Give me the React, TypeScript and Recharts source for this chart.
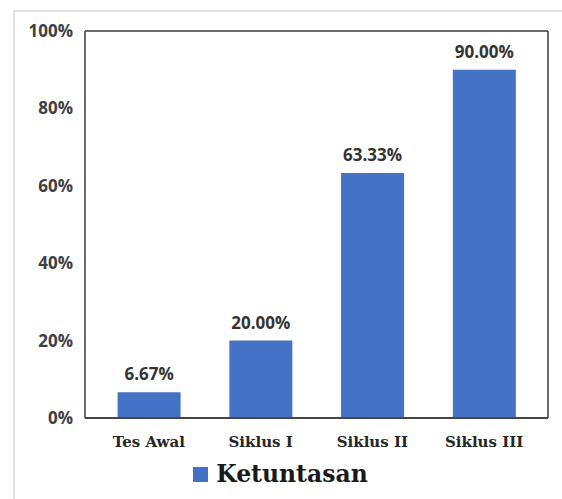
import { BarChart, Bar, XAxis, YAxis, CartesianGrid, Legend, LabelList } from "recharts";

const categories = ["Tes Awal", "Siklus I", "Siklus II", "Siklus III"];
const ketuntasan = [6.67, 20.0, 63.33, 90.0];
const yTicks = [0, 20, 40, 60, 80, 100];

const data = categories.map((name, i) => ({ name, Ketuntasan: ketuntasan[i] }));

const sans = "'Open Sans', sans-serif";
const serif = "'DejaVu Serif', serif";

const renderLegend = () => (
  <div style={{ display: "flex", justifyContent: "center", alignItems: "center", paddingLeft: 12, paddingTop: 4 }}>
    <span style={{ width: 15, height: 15, background: "#4472C4", display: "inline-block", marginRight: 8 }} />
    <span style={{ fontFamily: serif, fontWeight: "bold", fontSize: 23.5, color: "#1a1a1a" }}>Ketuntasan</span>
  </div>
);

export default function App() {
  return (
    <div style={{ position: "absolute", left: 0, top: 0, width: 562, height: 499, background: "#fff" }}>
      <div
        style={{
          position: "absolute",
          left: 13,
          top: 10,
          right: 0,
          bottom: 0,
          borderLeft: "2px solid #e3e3e3",
          borderTop: "2px solid #e3e3e3",
        }}
      />
      <BarChart
        width={562}
        height={499}
        data={data}
        margin={{ top: 31, right: 13, left: 0, bottom: 0 }}
        barCategoryGap="22%"
        style={{ position: "absolute", left: 0, top: 0 }}
      >
        <CartesianGrid vertical={false} stroke="#3a3a3a" strokeWidth={1.5} />
        <XAxis
          dataKey="name"
          height={38}
          padding={{ left: 8, right: 8 }}
          axisLine={{ stroke: "#3a3a3a", strokeWidth: 1.5 }}
          tickLine={false}
          tickMargin={12}
          tick={{ fontFamily: serif, fontWeight: "bold", fontSize: 15, fill: "#262626" }}
        />
        <YAxis
          yAxisId="left"
          width={85}
          domain={[0, 100]}
          ticks={yTicks}
          interval={0}
          axisLine={{ stroke: "#3a3a3a", strokeWidth: 1.5 }}
          tickLine={false}
          tickMargin={6}
          tickFormatter={(v) => `${v}%`}
          tick={{ fontFamily: sans, fontWeight: "bold", fontSize: 17, fill: "#404040" }}
        />
        <YAxis
          yAxisId="right"
          orientation="right"
          width={1}
          domain={[0, 100]}
          tick={false}
          tickLine={false}
          axisLine={{ stroke: "#3a3a3a", strokeWidth: 1.5 }}
        />
        <Legend verticalAlign="bottom" height={43} content={renderLegend} />
        <Bar yAxisId="left" dataKey="Ketuntasan" fill="#4472C4" isAnimationActive={false}>
          <LabelList
            dataKey="Ketuntasan"
            position="top"
            offset={12}
            formatter={(v: number) => `${v.toFixed(2)}%`}
            style={{ fontFamily: sans, fontWeight: "bold", fontSize: 17, fill: "#333" }}
          />
        </Bar>
      </BarChart>
    </div>
  );
}
